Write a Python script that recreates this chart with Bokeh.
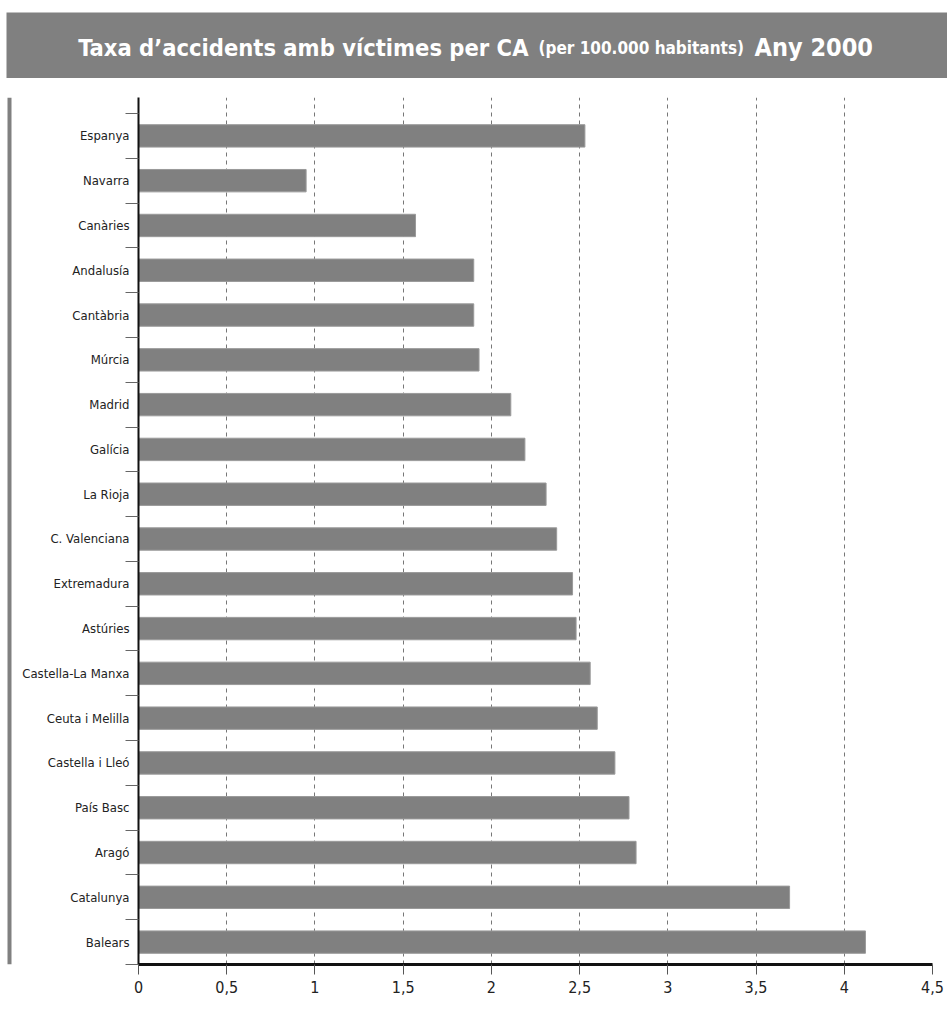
from bokeh.plotting import figure
from bokeh.layouts import column, row
from bokeh.models import FixedTicker, Range1d, ColumnDataSource
from bokeh.core.properties import value
from bokeh.embed import file_html
from bokeh.resources import INLINE

# ---------------- data ----------------
regions = ["Espanya", "Navarra", "Canàries", "Andalusía", "Cantàbria", "Múrcia",
           "Madrid", "Galícia", "La Rioja", "C. Valenciana", "Extremadura",
           "Astúries", "Castella-La Manxa", "Ceuta i Melilla", "Castella i Lleó",
           "País Basc", "Aragó", "Catalunya", "Balears"]
rates = [2.53, 0.95, 1.57, 1.90, 1.90, 1.93, 2.11, 2.19, 2.31, 2.37, 2.46,
         2.48, 2.56, 2.60, 2.70, 2.78, 2.82, 3.69, 4.12]
x_ticks = [0, 0.5, 1, 1.5, 2, 2.5, 3, 3.5, 4, 4.5]
x_tick_labels = ["0", "0,5", "1", "1,5", "2", "2,5", "3", "3,5", "4", "4,5"]
title_main = "Taxa d\u2019accidents amb víctimes per CA"
title_unit = "(per 100.000 habitants)"
title_year = "Any 2000"

FONT = "'DejaVu Sans Condensed', Roboto, sans-serif"
GREY = "#808080"
TXT = "#222222"

n = len(regions)
centers = [n - 1 - k + 0.5 for k in range(n)]
bounds = list(range(n + 1))

# ---------------- title bar ----------------
tp = figure(width=947, height=78, x_range=Range1d(0, 947), y_range=Range1d(0, 78),
            output_backend="svg", toolbar_location=None, min_border=0)
tp.axis.visible = False
tp.grid.visible = False
tp.outline_line_color = None
tp.quad(left=[6], right=[947], bottom=[0], top=[66], fill_color=GREY, line_color=None)
tp.text(x=[528], y=[31], text=[title_main], text_font=value(FONT), text_font_style="bold",
        text_font_size="23.5px", text_color="white", text_align="right", text_baseline="alphabetic")
tp.text(x=[538], y=[31], text=[title_unit], text_font=value(FONT), text_font_style="bold",
        text_font_size="17px", text_color="white", text_align="left", text_baseline="alphabetic")
tp.text(x=[754], y=[31], text=[title_year], text_font=value(FONT), text_font_style="bold",
        text_font_size="25px", text_color="white", text_align="left", text_baseline="alphabetic")

# ---------------- left border strip ----------------
sp = figure(width=12, height=938, x_range=Range1d(0, 12), y_range=Range1d(0, 938),
            output_backend="svg", toolbar_location=None, min_border=0)
sp.axis.visible = False
sp.grid.visible = False
sp.outline_line_color = None
sp.quad(left=[7], right=[11], bottom=[0], top=[938], fill_color=GREY, line_color=None)

# ---------------- main chart ----------------
src = ColumnDataSource(dict(region=regions, rate=rates, y=centers))
p = figure(width=935, height=938, x_range=Range1d(0, 4.5), y_range=Range1d(0, 19.357),
           output_backend="svg", toolbar_location=None,
           min_border_left=126, min_border_right=15, min_border_top=19, min_border_bottom=52)
p.outline_line_color = None
p.hbar(y="y", right="rate", left=0, height=0.5, source=src,
       fill_color=GREY, line_color="#9a9a9a", line_width=1)

p.xaxis.ticker = FixedTicker(ticks=x_ticks)
p.xaxis.major_label_overrides = {float(t): l for t, l in zip(x_ticks, x_tick_labels)}
p.xaxis.axis_line_width = 3
p.xaxis.axis_line_color = "#111111"
p.xaxis.major_tick_out = 10
p.xaxis.major_tick_in = 0
p.xaxis.major_tick_line_color = "#555555"
p.xaxis.minor_tick_line_color = None
p.xaxis.major_label_text_font = FONT
p.xaxis.major_label_text_font_size = "16px"
p.xaxis.major_label_text_color = TXT
p.xaxis.major_label_standoff = 6

p.yaxis.ticker = FixedTicker(ticks=centers, minor_ticks=bounds)
p.yaxis.major_label_overrides = {float(c): r for c, r in zip(centers, regions)}
p.yaxis.axis_line_width = 2
p.yaxis.axis_line_color = "#111111"
p.yaxis.major_tick_line_color = None
p.yaxis.major_tick_out = 0
p.yaxis.major_tick_in = 0
p.yaxis.minor_tick_out = 13
p.yaxis.minor_tick_in = 0
p.yaxis.minor_tick_line_color = "#666666"
p.yaxis.major_label_text_font = FONT
p.yaxis.major_label_text_font_size = "13px"
p.yaxis.major_label_text_color = TXT
p.yaxis.major_label_standoff = -4

p.xgrid.ticker = FixedTicker(ticks=x_ticks)
p.xgrid.grid_line_color = "#777777"
p.xgrid.grid_line_dash = "4 4"
p.xgrid.grid_line_width = 1
p.ygrid.grid_line_color = None

layout = column(tp, row(sp, p, spacing=0), spacing=0)

with open("out.html", "w") as f:
    f.write(file_html(layout, INLINE))
